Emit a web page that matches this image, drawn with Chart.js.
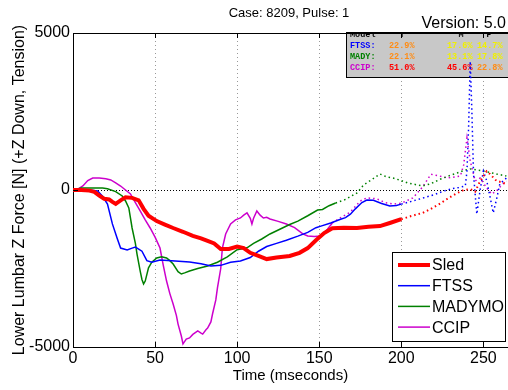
<!DOCTYPE html>
<html>
<head>
<meta charset="utf-8">
<script src="https://cdn.jsdelivr.net/npm/chart.js@4/dist/chart.umd.min.js"></script>
<style>
  html, body { margin: 0; padding: 0; background: #fff; }
</style>
</head>
<body>
<canvas id="myChart" width="508" height="390"></canvas>
<script>
// time in ms, force in N
const sledTime = [0, 5, 10, 13, 16, 19, 22, 24, 26, 29, 32, 36, 40, 43, 46, 51, 56, 61, 67, 73, 78, 82, 86, 90, 95, 100, 104, 108, 113, 118, 124, 132, 138, 143, 148, 153, 158, 165, 173, 180, 187, 193, 200,
  206, 213, 218, 224, 229, 234, 238, 242, 245, 248, 252, 254, 258, 261, 264]
const sledForce = [0, 0, -20, -60, -180, -280, -300, -380, -440, -330, -230, -250, -330, -600, -820, -990, -1100, -1210, -1330, -1460, -1540, -1620, -1700, -1880, -1880, -1800, -1850, -2000, -2100, -2200, -2150, -2100, -2000, -1850, -1600, -1370, -1220, -1200, -1210, -1170, -1150, -1050, -930,
  -830, -730, -600, -420, -250, -100, 0, 30, -50, 280, 600, 510, 290, 250, 190]

const ftssTime = [0, 10, 15, 18, 21, 24, 27, 29, 33, 36, 38, 40, 42, 45, 48, 53, 60, 71, 78, 84, 90, 96, 102, 108, 113, 118, 124, 130, 137, 143, 148, 151, 157, 163, 166, 169, 172, 176, 179, 183, 188, 193, 197, 200,
  207, 213, 220, 226, 230, 235, 239, 240, 241, 242, 243, 244, 246, 248, 250, 252, 254, 256, 258, 260, 264]
const ftssForce = [0, 0, -30, -200, -450, -1080, -1550, -1850, -1910, -1850, -1815, -1880, -1950, -2250, -2300, -2230, -2250, -2290, -2350, -2420, -2400, -2300, -2260, -2150, -1950, -1800, -1700, -1600, -1470, -1350, -1200, -1150, -1050, -930, -880, -770, -600, -400, -320, -330, -430, -510, -490, -450,
  -350, -260, -150, -30, 30, 80, 130, 600, 2000, 4100, 2500, 500, -770, 0, 600, 300, -200, -730, -300, 190, 380]

const madyTime = [0, 5, 12, 18, 21, 26, 30, 32, 34, 36, 38, 39, 41, 42, 43, 44, 46, 48, 51, 54, 57, 59, 61, 64, 66, 68, 71, 76, 82, 88, 94, 100, 106, 110, 115, 120, 126, 132, 137, 143, 149, 152, 156, 160,
  166, 170, 173, 177, 182, 187, 191, 195, 200, 204, 209, 213, 218, 224, 229, 234, 238, 242, 246, 250, 254, 258, 264]
const madyForce = [0, 60, 60, 60, 40, -50, -190, -350, -570, -1210, -1700, -2040, -2600, -2850, -2990, -2900, -2480, -2300, -2165, -2130, -2165, -2250, -2357, -2600, -2675, -2640, -2580, -2500, -2420, -2300, -2130, -1900, -1840, -1700, -1560, -1400, -1250, -1100, -990, -820, -640, -620, -500, -414,
  -300, -180, -96, 160, 330, 510, 420, 380, 300, 223, 170, 130, 200, 350, 450, 540, 620, 670, 640, 605, 560, 510, 446]

const ccipTime = [0, 3, 6, 9, 12, 16, 20, 23, 26, 29, 32, 35, 38, 41, 44, 47, 50, 53, 55, 57, 59, 61, 63, 64, 66, 67, 69, 71, 73, 76, 78, 79, 81, 82, 84, 85, 87, 88, 90, 91, 93, 96, 99, 102, 104, 106, 108, 109, 110, 112, 114, 116, 118, 120, 125, 130, 135, 140, 143, 147, 151, 155, 158,
  163, 169, 175, 179, 185, 190, 195, 200, 207, 213, 218, 223, 228, 233, 236, 238, 240, 242, 245, 248, 252, 255, 258, 261, 264]
const ccipForce = [0, 30, 127, 300, 382, 380, 360, 320, 230, 127, 0, -127, -400, -670, -950, -1210, -1500, -1847, -2400, -2900, -3300, -3630, -4000, -4270, -4650, -4900, -4750, -4710, -4600, -4490, -4560, -4590, -4450, -4400, -4200, -3950, -3500, -3120, -2500, -1847, -1400, -1083, -950, -890, -800, -730, -900, -1083, -900, -670, -800, -890, -870, -924, -1000, -1083, -1200, -1400, -1465, -1480, -1465, -1250, -1050,
  -880, -700, -350, -250, -280, -400, -450, -420, -255, 100, 500, 450, 382, 420, 446, 800, 1656, 924, 286, 382, 64, -127, -30, 150, 286]

const xTicks = [0, 50, 100, 150, 200, 250]
const yTicks = [-5000, 0, 5000]

const tableModels = ['FTSS', 'MADY', 'CCIP']
const tableT = [22.9, 22.1, 51.0]
const tableM = [17.6, 13.1, 45.6]
const tableP = [14.7, 17.8, 22.8]

function pts(t, v) {
  return t.map((x, i) => ({ x: x, y: v[i] }))
}

function series(label, color, t, v, width, dotFrom, dotWidth) {
  return {
    label: label,
    data: pts(t, v),
    borderColor: color,
    backgroundColor: color,
    borderWidth: width,
    pointRadius: 0,
    tension: 0,
    fill: false,
    segment: {
      borderDash: ctx => ctx.p0.parsed.x >= dotFrom ? [1.5, 3] : undefined,
      borderWidth: ctx => ctx.p0.parsed.x >= dotFrom ? dotWidth : undefined,
    },
  }
}

const FONT = "'Liberation Sans', Arial, sans-serif"
const MONO = "'Liberation Mono', 'Courier New', monospace"
Chart.defaults.font.family = FONT
Chart.defaults.color = '#000'

function rateColor(v) {
  if (v > 40) return 'rgb(255,0,0)'
  if (v >= 20) return 'rgb(255,140,20)'
  return 'rgb(240,240,0)'
}

const decor = {
  id: 'decor',
  beforeDatasetsDraw(chart) {
    const ctx = chart.ctx
    // rating table
    ctx.save()
    ctx.fillStyle = 'rgb(200,200,200)'
    ctx.fillRect(347, 32, 170, 45)
    ctx.beginPath()
    ctx.rect(347, 32, 170, 45)
    ctx.clip()
    ctx.font = 'bold 8.5px ' + MONO
    ctx.textBaseline = 'alphabetic'
    ctx.fillStyle = '#000'
    ctx.textAlign = 'left'
    ctx.fillText('Model', 350, 37)
    ctx.textAlign = 'center'
    ctx.fillText('T', 402, 37)
    ctx.fillText('M', 461, 37)
    ctx.fillText('P', 489, 37)
    const nameColors = ['rgb(0,0,255)', 'rgb(0,128,0)', 'rgb(204,0,204)']
    const colX = [389, 447, 477]
    tableModels.forEach((m, i) => {
      const y = 48 + i * 11
      ctx.textAlign = 'left'
      ctx.fillStyle = nameColors[i]
      ctx.fillText(m + ':', 350, y)
      ;[tableT[i], tableM[i], tableP[i]].forEach((v, j) => {
        ctx.fillStyle = rateColor(v)
        ctx.fillText(v.toFixed(1) + '%', colX[j], y)
      })
    })
    ctx.restore()
    ctx.save()
    ctx.strokeStyle = '#000'
    ctx.lineWidth = 1
    ctx.strokeRect(346.5, 32.5, 170, 45)
    ctx.restore()
  },
  afterDatasetsDraw(chart) {
    const ctx = chart.ctx
    const a = chart.chartArea
    const xs = chart.scales.x
    const ys = chart.scales.y
    ctx.save()
    ctx.strokeStyle = '#000'
    ctx.lineWidth = 1
    // box top line
    ctx.beginPath()
    ctx.moveTo(a.left, a.top + 0.5)
    ctx.lineTo(a.right, a.top + 0.5)
    ctx.stroke()
    // inward ticks
    ctx.beginPath()
    xTicks.forEach(t => {
      const x = Math.round(xs.getPixelForValue(t)) + 0.5
      ctx.moveTo(x, a.bottom)
      ctx.lineTo(x, a.bottom - 5)
      ctx.moveTo(x, a.top)
      ctx.lineTo(x, a.top + 5)
    })
    yTicks.forEach(v => {
      const y = Math.round(ys.getPixelForValue(v)) + 0.5
      ctx.moveTo(a.left, y)
      ctx.lineTo(a.left + 5, y)
    })
    ctx.stroke()

    // legend box
    const lx = 392, ly = 252, lw = 113, lh = 89
    ctx.fillStyle = '#fff'
    ctx.fillRect(lx, ly, lw, lh)
    ctx.strokeRect(lx + 0.5, ly + 0.5, lw, lh)
    ctx.font = '16px ' + FONT
    ctx.textBaseline = 'middle'
    ctx.textAlign = 'left'
    chart.data.datasets.forEach((ds, i) => {
      const y = 265 + i * 20.7
      ctx.strokeStyle = ds.borderColor
      ctx.lineWidth = ds.borderWidth
      ctx.setLineDash([])
      ctx.beginPath()
      ctx.moveTo(398, y)
      ctx.lineTo(430, y)
      ctx.stroke()
      ctx.fillStyle = '#000'
      ctx.fillText(ds.label, 432, y + 1)
    })
    ctx.restore()
  },
  afterDraw(chart) {
    const ctx = chart.ctx
    ctx.save()
    ctx.fillStyle = '#000'
    ctx.textBaseline = 'alphabetic'
    ctx.font = '13px ' + FONT
    ctx.textAlign = 'center'
    ctx.fillText('Case: 8209, Pulse: 1', 289, 17)
    ctx.font = '16px ' + FONT
    ctx.textAlign = 'right'
    ctx.fillText('Version: 5.0', 506, 28)
    ctx.restore()
  },
}

const data = {
  datasets: [
    series('Sled', 'rgb(255,0,0)', sledTime, sledForce, 4, 200, 2),
    series('FTSS', 'rgb(0,0,255)', ftssTime, ftssForce, 1.5, 200, 1.5),
    series('MADYMO', 'rgb(0,128,0)', madyTime, madyForce, 1.5, 160, 1.5),
    series('CCIP', 'rgb(204,0,204)', ccipTime, ccipForce, 1.5, 158, 1.5),
  ],
}

const config = {
  type: 'line',
  data: data,
  plugins: [decor],
  options: {
    responsive: false,
    animation: false,
    layout: { padding: { top: 33, left: 0, right: 0, bottom: 0 } },
    plugins: {
      legend: { display: false },
      title: { display: false },
      tooltip: { enabled: false },
    },
    scales: {
      x: {
        type: 'linear',
        min: 0,
        max: 265,
        afterFit: s => { s.height = 43 },
        afterBuildTicks: s => { s.ticks = xTicks.map(v => ({ value: v })) },
        ticks: {
          font: { size: 16 },
          color: '#000',
          padding: 2,
          maxRotation: 0,
          callback: v => String(v),
        },
        grid: { color: '#999', lineWidth: 1, drawTicks: false },
        border: { display: true, color: '#000', width: 1, dash: [1, 3] },
        title: {
          display: true,
          text: 'Time (mseconds)',
          font: { size: 15 },
          color: '#000',
          padding: { top: 0, bottom: 5 },
        },
      },
      y: {
        type: 'linear',
        min: -5000,
        max: 5000,
        afterFit: s => { s.width = 73 },
        afterBuildTicks: s => { s.ticks = yTicks.map(v => ({ value: v })) },
        ticks: {
          font: { size: 16 },
          color: '#000',
          padding: 3,
          callback: v => String(v),
        },
        grid: {
          color: c => (c.tick && c.tick.value === 0 ? '#000' : 'rgba(0,0,0,0)'),
          lineWidth: 1,
          drawTicks: false,
        },
        border: { display: true, color: '#000', width: 1, dash: [1, 2] },
        title: {
          display: true,
          text: 'Lower Lumbar Z Force [N] (+Z Down, Tension)',
          font: { size: 16 },
          color: '#000',
          padding: { top: 10, bottom: 0 },
        },
      },
    },
  },
}

let chart = new Chart(document.getElementById('myChart'), config)
</script>
</body>
</html>
